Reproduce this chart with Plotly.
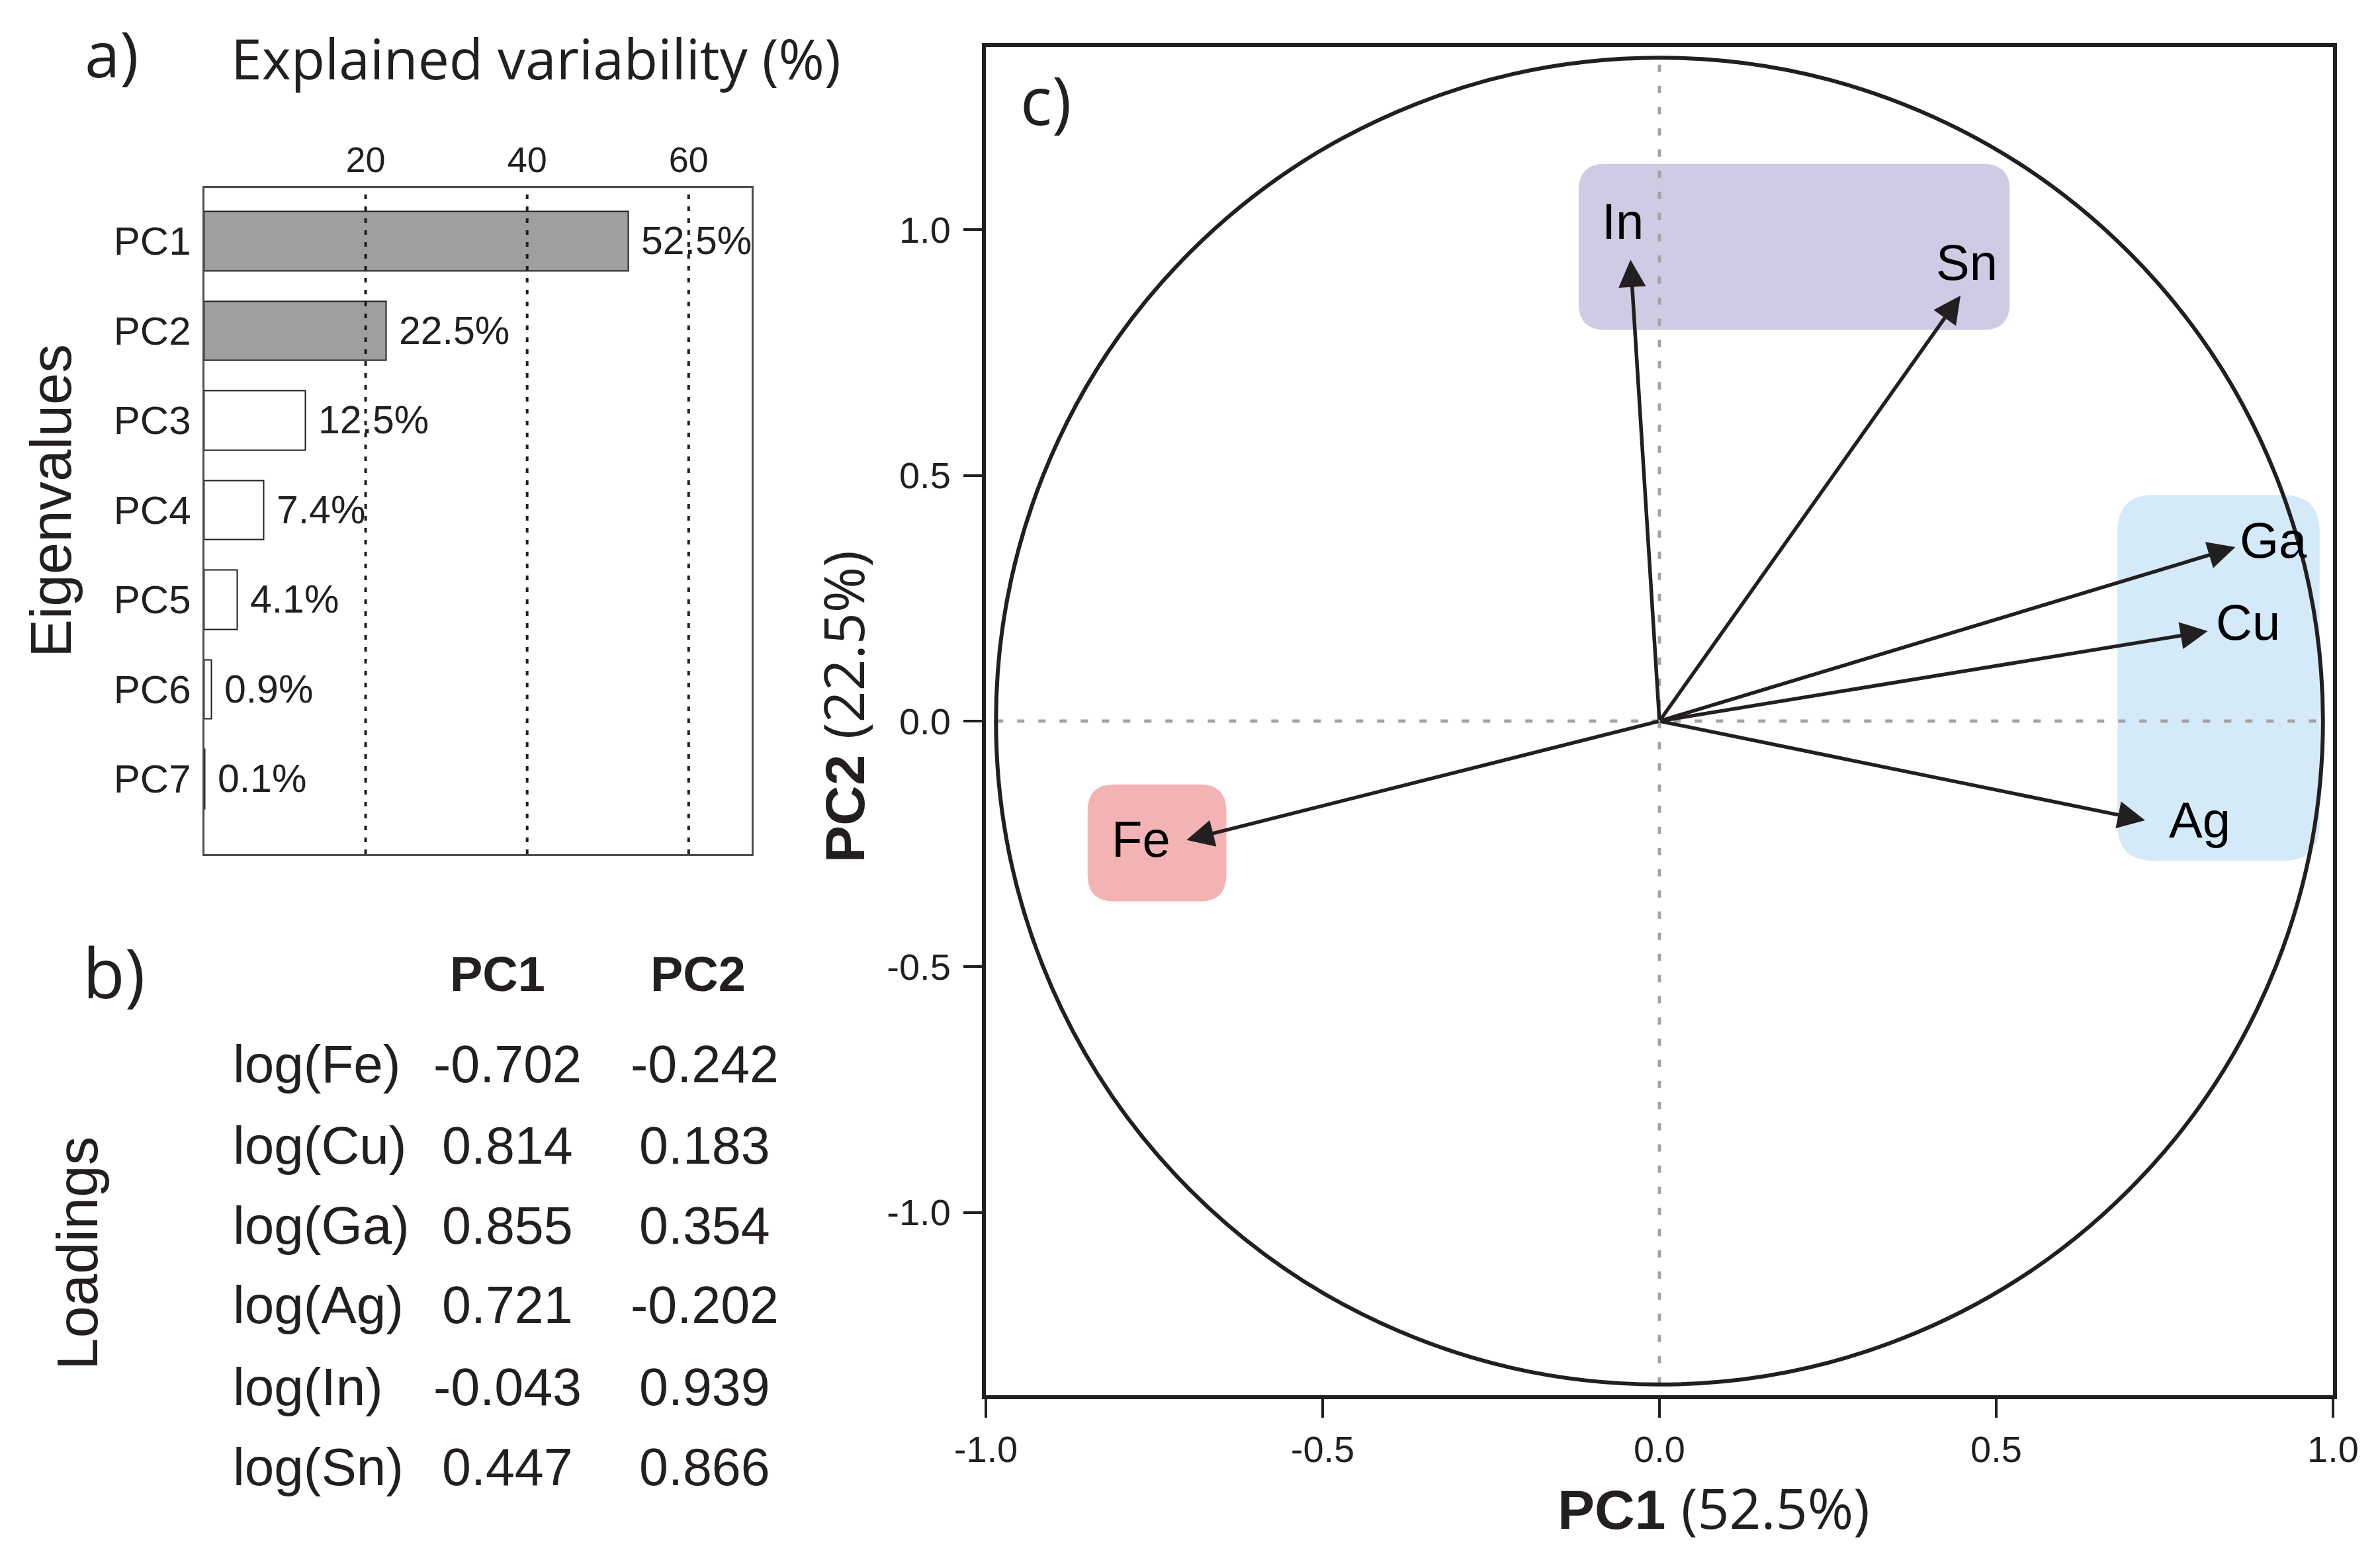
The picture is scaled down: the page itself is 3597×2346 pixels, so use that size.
import plotly.graph_objects as go

# panel a: explained variability per component
components = ["PC1", "PC2", "PC3", "PC4", "PC5", "PC6", "PC7"]
explained = [52.5, 22.5, 12.5, 7.4, 4.1, 0.9, 0.1]
retained = 2  # first two components are shaded
grid_ticks = [20, 40, 60]

# panel b / c: loadings
elements = ["Fe", "Cu", "Ga", "Ag", "In", "Sn"]
pc1_loadings = [-0.702, 0.814, 0.855, 0.721, -0.043, 0.447]
pc2_loadings = [-0.242, 0.183, 0.354, -0.202, 0.939, 0.866]
axis_ticks = [-1.0, -0.5, 0.0, 0.5, 1.0]

W, H = 3597, 2346
INK = "#231f20"
SANS = "Liberation Sans, Arial, sans-serif"
OPEN = "Open Sans, sans-serif"


def px(x):
    return x / W


def py(y):
    return 1 - y / H


# panel c frame (pixels) and ranges
C_LEFT, C_RIGHT, C_TOP, C_BOTTOM = 1490, 3526, 71, 2109
Y_LIM = 1.372
x_unit = (C_RIGHT - C_LEFT) / 2.0
y_unit = (C_BOTTOM - C_TOP) / (2 * Y_LIM)
circ_rx = 0.985
circ_ry = circ_rx * x_unit / y_unit

fig = go.Figure()

# ---- panel a bars
fig.add_trace(go.Bar(
    y=components, x=explained, orientation="h", width=0.66,
    marker=dict(color=["#9f9f9f" if i < retained else "white" for i in range(len(components))],
                line=dict(color=INK, width=2)),
    text=["\u00a0" + f"{v}%" for v in explained],
    textposition="outside", constraintext="none", cliponaxis=False,
    textfont=dict(family=SANS, size=59, color=INK),
    xaxis="x", yaxis="y", hoverinfo="x+y", showlegend=False,
))

# ---- panel c invisible points at the arrow tips
fig.add_trace(go.Scatter(
    x=pc1_loadings, y=pc2_loadings, text=elements, mode="markers",
    marker=dict(size=1, opacity=0), xaxis="x2", yaxis="y2",
    hoverinfo="text+x+y", showlegend=False,
))

shapes = []
for t in grid_ticks:
    shapes.append(dict(type="line", xref="x", yref="y domain", x0=t, x1=t, y0=0, y1=1,
                       line=dict(color=INK, width=4, dash="7px,11px")))


def rounded(x0, x1, y0, y1, r):
    rx, ry = r / x_unit, r / y_unit
    return (f"M{x0 + rx},{y0} L{x1 - rx},{y0} Q{x1},{y0} {x1},{y0 + ry} "
            f"L{x1},{y1 - ry} Q{x1},{y1} {x1 - rx},{y1} L{x0 + rx},{y1} "
            f"Q{x0},{y1} {x0},{y1 - ry} L{x0},{y0 + ry} Q{x0},{y0} {x0 + rx},{y0} Z")


groups = [
    (-0.120, 0.520, 0.796, 1.134, "#cfcbe5", 40),   # In, Sn
    (0.680, 0.980, -0.284, 0.460, "#d4eaf9", 55),   # Ga, Cu, Ag
    (-0.849, -0.643, -0.367, -0.129, "#f3b3b4", 40),  # Fe
]
for x0, x1, y0, y1, col, r in groups:
    shapes.append(dict(type="path", xref="x2", yref="y2", path=rounded(x0, x1, y0, y1, r),
                       fillcolor=col, line=dict(width=0), layer="below"))

shapes.append(dict(type="line", xref="x2", yref="y2", x0=-circ_rx, x1=circ_rx, y0=0, y1=0,
                   line=dict(color="#a3a3a3", width=5, dash="11px,21px")))
shapes.append(dict(type="line", xref="x2", yref="y2", x0=0, x1=0, y0=-circ_ry, y1=circ_ry,
                   line=dict(color="#a3a3a3", width=5, dash="11px,21px")))
shapes.append(dict(type="circle", xref="x2", yref="y2", x0=-circ_rx, x1=circ_rx,
                   y0=-circ_ry, y1=circ_ry, line=dict(color=INK, width=6)))

annotations = []


def note(text, x, y, size, family=SANS, angle=0, xanchor="center", color=INK):
    annotations.append(dict(text=text, x=px(x), y=py(y), xref="paper", yref="paper",
                            showarrow=False, textangle=angle, xanchor=xanchor, yanchor="middle",
                            font=dict(family=family, size=size, color=color)))


# panel a texts
note("a)", 169, 80, 96, OPEN)
note("Explained variability (%)", 810, 87, 84, OPEN)
note("Eigenvalues", 76, 757, 87, angle=-90)

# panel b table
note("b)", 172, 1468, 104, OPEN)
note("Loadings", 116, 1894, 87, angle=-90)
note("<b>PC1</b>", 752, 1472, 74)
note("<b>PC2</b>", 1055, 1472, 74)
row_y = [1608, 1731, 1852, 1972, 2096, 2217]
for el, a, b, yy in zip(elements, pc1_loadings, pc2_loadings, row_y):
    note(f"log({el})", 350, yy, 80, xanchor="left")
    note(f"{a:.3f}", 767, yy, 79)
    note(f"{b:.3f}", 1065, yy, 79)

# panel c texts
note("c)", 1580, 150, 100, OPEN)
note("<b>PC1</b> <span style='font-family:Open Sans'>(52.5%)</span>", 2590, 2278, 84)
note("<b>PC2</b> <span style='font-family:Open Sans'>(22.5%)</span>", 1273, 1068, 84, angle=-90)

# loading arrows
for a, b in zip(pc1_loadings, pc2_loadings):
    annotations.append(dict(x=a, y=b, ax=0, ay=0, xref="x2", yref="y2", axref="x2", ayref="y2",
                            text="", showarrow=True, arrowhead=2, arrowsize=1.5,
                            arrowwidth=5.5, arrowcolor=INK, standoff=0, startstandoff=0))

label_shift = {"In": (-12, 58), "Sn": (9, 50), "Ga": (58, 11),
               "Cu": (61, 14), "Ag": (83, 1), "Fe": (-69, 1)}
for el, a, b in zip(elements, pc1_loadings, pc2_loadings):
    dx, dy = label_shift[el]
    annotations.append(dict(text=el, x=a, y=b, xref="x2", yref="y2", showarrow=False,
                            xshift=dx, yshift=dy, font=dict(family=SANS, size=76, color="black")))

tick_text = [f"{v:.1f}" for v in axis_ticks]
c_axis = dict(tickmode="array", tickvals=axis_ticks, ticktext=tick_text,
              ticks="outside", ticklen=28, tickwidth=4, tickcolor=INK,
              showline=True, mirror=True, linewidth=6, linecolor=INK,
              showgrid=False, zeroline=False, fixedrange=True, automargin=False,
              tickfont=dict(family=SANS, size=56, color=INK))

fig.update_layout(
    width=W, height=H, autosize=False,
    margin=dict(l=0, r=0, t=0, b=0, pad=0),
    paper_bgcolor="white", plot_bgcolor="white",
    showlegend=False, bargap=0,
    xaxis=dict(domain=[px(308.5), px(1136)], range=[0, 67.8], side="top", anchor="y",
               tickvals=grid_ticks, ticks="", ticklabelstandoff=0,
               showgrid=False, zeroline=False, showline=True, mirror=True, automargin=False,
               linecolor="#4d4d4d", linewidth=3, fixedrange=True,
               tickfont=dict(family=SANS, size=54, color=INK)),
    yaxis=dict(domain=[py(1291), py(284.4)], range=[6.84, -0.59], anchor="x",
               ticks="", ticklabelstandoff=5, showgrid=False, zeroline=False, automargin=False,
               showline=True, mirror=True, linecolor="#4d4d4d", linewidth=3, fixedrange=True,
               tickfont=dict(family=SANS, size=60, color=INK)),
    xaxis2={**c_axis, "domain": [px(C_LEFT), px(C_RIGHT)], "range": [-1, 1], "anchor": "y2"},
    yaxis2={**c_axis, "domain": [py(C_BOTTOM), py(C_TOP)], "range": [-Y_LIM, Y_LIM],
            "anchor": "x2", "ticklabelstandoff": 8},
    shapes=shapes,
    annotations=annotations,
)

fig.write_html("out.html", config={"displayModeBar": False},
               post_script="document.body.style.margin='0px';document.body.style.overflow='hidden';")
